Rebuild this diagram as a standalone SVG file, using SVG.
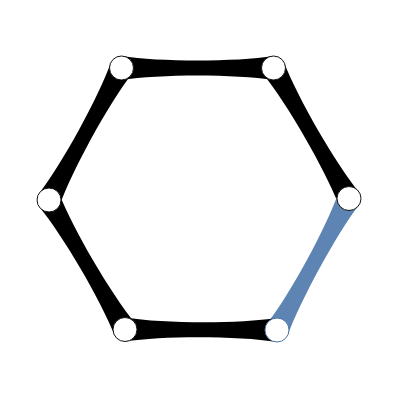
<svg xmlns="http://www.w3.org/2000/svg" width="400" height="400" viewBox="0 0 400 400">
<style>
.edge{fill:#000;stroke:none}
.edge.hl{fill:#5d84b3}
.node circle{fill:#fff;stroke:#111;stroke-width:1}
.node.hl circle{stroke:#4f74a3}
</style>
<rect width="400" height="400" fill="#fff"/>
<g id="connectors">
<path class="edge" d="M121.5,56 C159.5,62 235.5,62 273.5,56 L273.5,80 C235.5,74 159.5,74 121.5,80 Z"/>
<path class="edge" d="M283.89,61.99 C297.57,97.62 335.32,163.37 359.39,192.49 L338.61,204.51 C324.93,169.38 287.18,103.63 263.11,74.01 Z"/>
<path class="edge hl" d="M338.47,192.74 C325.74,228.49 289.74,295.24 266.47,324.24 L287.53,335.76 C300.26,301.01 336.26,234.26 359.53,204.26 Z"/>
<path class="edge" d="M277,318 C239,323.875 163,323.625 125,317.5 L125,341.5 C163,335.625 239,335.875 277,342 Z"/>
<path class="edge" d="M135.35,323.43 C111.18,294.09 73.18,229.34 59.35,193.93 L38.65,206.07 C62.82,235.41 100.82,300.17 114.65,335.57 Z"/>
<path class="edge" d="M59.52,205.78 C72.39,169.89 108.64,103.89 132.02,73.78 L110.98,62.22 C98.12,98.11 61.87,164.11 38.48,194.22 Z"/>
</g>
<g id="n0" class="node"><circle cx="121.5" cy="68" r="12"/></g>
<g id="n1" class="node"><circle cx="273.5" cy="68" r="12"/></g>
<g id="n2" class="node"><circle cx="349" cy="198.5" r="12"/></g>
<g id="n3" class="node hl"><circle cx="277" cy="330" r="12"/></g>
<g id="n4" class="node"><circle cx="125" cy="329.5" r="12"/></g>
<g id="n5" class="node"><circle cx="49" cy="200" r="12"/></g>
</svg>
